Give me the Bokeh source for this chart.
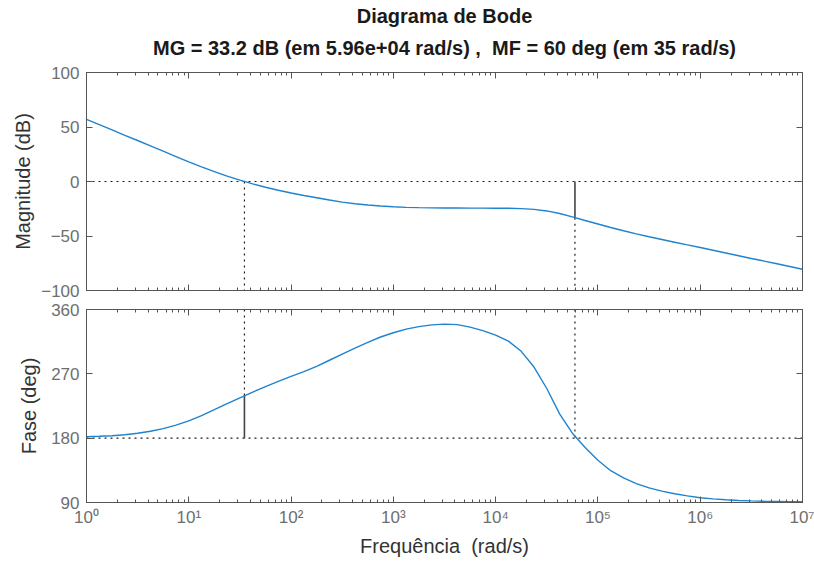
import json
from bokeh.plotting import figure
from bokeh.layouts import column
from bokeh.models import (Range1d, LogAxis, LinearAxis, FixedTicker,
                          CustomJSTickFormatter, Title)
from bokeh.embed import file_html
from bokeh.resources import INLINE

# ---------------- data ----------------
# log10 of frequency (rad/s) and magnitude (dB)
mag_exp = [0, 0.125, 0.25, 0.375, 0.5, 0.625, 0.75, 0.875, 1.0, 1.125, 1.25, 1.375,
           1.5, 1.625, 1.75, 1.875, 2.0, 2.125, 2.25, 2.375, 2.5, 2.625, 2.75, 2.875,
           3.0, 3.125, 3.25, 3.375, 3.5, 3.625, 3.75, 3.875, 4.0, 4.125, 4.25, 4.375,
           4.5, 4.625, 4.75, 4.875, 5.0, 5.125, 5.25, 5.375, 5.5, 5.625, 5.75, 5.875,
           6.0, 6.125, 6.25, 6.375, 6.5, 6.625, 6.75, 6.875, 7.0]
mag_db = [57.0, 52.1, 47.3, 42.4, 37.6, 32.7, 27.8, 22.9, 18.0, 13.4, 9.1, 5.0,
          1.2, -2.2, -5.3, -8.0, -10.5, -12.8, -14.9, -17.0, -18.9, -20.4, -21.6, -22.5,
          -23.2, -23.7, -24.0, -24.2, -24.3, -24.35, -24.4, -24.45, -24.5, -24.6, -24.9, -25.6,
          -27.0, -29.4, -32.5, -35.8, -39.0, -42.2, -45.2, -48.0, -50.7, -53.2, -55.7, -58.2,
          -60.6, -63.1, -65.6, -68.1, -70.6, -73.0, -75.5, -78.0, -80.5]

# log10 of frequency (rad/s) and phase (deg)
phase_exp = mag_exp
phase_deg = [182.0, 182.6, 183.4, 184.8, 186.8, 189.6, 193.4, 198.3, 204.3, 211.5, 219.8, 228.3,
             236.5, 244.5, 252.0, 259.5, 266.5, 273.0, 280.5, 289.0, 297.5, 306.0, 314.0, 321.5,
             327.5, 332.5, 336.0, 338.5, 339.5, 338.8, 335.3, 330.5, 324.2, 315.8, 301.5, 279.5,
             249.5, 214.0, 187.0, 167.0, 149.0, 134.5, 124.5, 116.5, 110.5, 106.0, 102.3, 99.3,
             96.6, 95.0, 93.8, 92.9, 92.3, 91.8, 91.5, 91.2, 91.0]

gm_db = 33.2        # gain margin (dB)
gm_freq = 5.96e4    # rad/s
pm_deg = 60         # phase margin (deg)
pm_freq = 35        # rad/s
ref_phase = 180     # reference phase line (deg)

x_ticks = [1, 10, 100, 1e3, 1e4, 1e5, 1e6, 1e7]
x_tick_labels = ["10\u2070", "10\u00b9", "10\u00b2", "10\u00b3",
                 "10\u2074", "10\u2075", "10\u2076", "10\u2077"]
x_minor = [k * 10 ** n for n in range(7) for k in range(2, 10)]
mag_ticks = [-100, -50, 0, 50, 100]
phase_ticks = [90, 180, 270, 360]

title_1 = "Diagrama de Bode"
title_2 = "MG = %.1f dB (em %.2e rad/s) ,\u00a0 MF = %g deg (em %g rad/s)" % (gm_db, gm_freq, pm_deg, pm_freq)
x_label = "Frequ\u00eancia\u00a0 (rad/s)"

mag_freq = [10 ** e for e in mag_exp]
phase_freq = [10 ** e for e in phase_exp]

# ---------------- styles ----------------
FONT = "Liberation Sans"
AXC = "#555555"
TICKC = "#6e6e6e"
LABC = "#333333"
BLUE = "#1f83cd"
DOT = "#1e1e1e"
SOLID = "#444444"
DASH = "2 4"

blank = CustomJSTickFormatter(code="return '';")
xlab_fmt = CustomJSTickFormatter(code="const L = %s; const n = Math.round(Math.log10(tick)); return (n >= 0 && n < L.length) ? L[n] : '';" % json.dumps(x_tick_labels))


def style(ax, show_labels):
    ax.axis_line_color = AXC
    ax.axis_line_width = 1
    ax.major_tick_line_color = AXC
    ax.minor_tick_line_color = AXC
    ax.major_tick_in = 6
    ax.major_tick_out = 0
    ax.minor_tick_in = 3
    ax.minor_tick_out = 0
    ax.major_label_text_font = FONT
    ax.major_label_text_font_size = "17px"
    ax.major_label_text_color = TICKC
    ax.axis_label_text_font = FONT
    ax.axis_label_text_font_size = "20px"
    ax.axis_label_text_font_style = "normal"
    ax.axis_label_text_color = LABC
    if not show_labels:
        ax.formatter = blank
        ax.major_label_standoff = 0


def make_fig(height, yr, yticks, top_border, bottom_border, show_x_labels):
    p = figure(width=814, height=height, x_axis_type="log",
               x_range=Range1d(1, 1e7), y_range=Range1d(*yr),
               output_backend="svg", toolbar_location=None, title=None,
               min_border_left=86, min_border_right=12,
               min_border_top=top_border, min_border_bottom=bottom_border,
               background_fill_color="white", border_fill_color="white")
    p.outline_line_color = AXC
    p.grid.visible = False
    xb = p.below[0]
    xb.ticker = FixedTicker(ticks=x_ticks, minor_ticks=x_minor)
    style(xb, show_x_labels)
    if show_x_labels:
        xb.formatter = xlab_fmt
    yl = p.left[0]
    yl.ticker = FixedTicker(ticks=yticks, minor_ticks=[])
    style(yl, True)
    yl.minor_tick_line_color = None
    xa = LogAxis(ticker=FixedTicker(ticks=x_ticks, minor_ticks=x_minor))
    style(xa, False)
    p.add_layout(xa, "above")
    yr_ax = LinearAxis(ticker=FixedTicker(ticks=yticks, minor_ticks=[]))
    style(yr_ax, False)
    yr_ax.minor_tick_line_color = None
    p.add_layout(yr_ax, "right")
    return p, xb, yl


# ---------------- magnitude panel ----------------
top, top_x, top_y = make_fig(300, (-100, 100), mag_ticks, 72, 10, False)
top_y.axis_label = "Magnitude (dB)"
top_y.major_label_standoff = 7
top_y.axis_label_standoff = 4

top.line([1, 1e7], [0, 0], line_color=DOT, line_width=1.2, line_dash=DASH)
top.line([pm_freq, pm_freq], [0, -100], line_color=DOT, line_width=1.2, line_dash=DASH)
top.line([gm_freq, gm_freq], [-gm_db, -100], line_color=DOT, line_width=1.2, line_dash=DASH)
top.line([gm_freq, gm_freq], [0, -gm_db], line_color=SOLID, line_width=1.6)
top.line(mag_freq, mag_db, line_color=BLUE, line_width=1.4)

t2 = Title(text=title_2, align="center", text_font=FONT, text_font_size="20px",
           text_font_style="bold", text_color="#1a1a1a", standoff=27)
t1 = Title(text=title_1, align="center", text_font=FONT, text_font_size="20px",
           text_font_style="bold", text_color="#1a1a1a", standoff=0)
try:
    t1.standoff = -10
except Exception:
    t1.standoff = 0
top.add_layout(t2, "above")
top.add_layout(t1, "above")

# ---------------- phase panel ----------------
bot, bot_x, bot_y = make_fig(267, (90, 360), phase_ticks, 9, 65, True)
bot.x_range = top.x_range
bot_y.axis_label = "Fase (deg)"
bot_y.major_label_standoff = 7
bot_y.axis_label_standoff = 8
bot_x.axis_label = x_label
bot_x.major_label_standoff = 5
bot_x.axis_label_standoff = 5

bot.line([1, 1e7], [ref_phase, ref_phase], line_color=DOT, line_width=1.2, line_dash=DASH)
bot.line([pm_freq, pm_freq], [360, ref_phase + pm_deg], line_color=DOT, line_width=1.2, line_dash=DASH)
bot.line([pm_freq, pm_freq], [ref_phase + pm_deg, ref_phase], line_color=SOLID, line_width=1.6)
bot.line([gm_freq, gm_freq], [360, ref_phase], line_color=DOT, line_width=1.2, line_dash=DASH)
bot.line(phase_freq, phase_deg, line_color=BLUE, line_width=1.4)

layout = column(top, bot, spacing=0)
with open("out.html", "w", encoding="utf-8") as f:
    f.write(file_html(layout, INLINE))
